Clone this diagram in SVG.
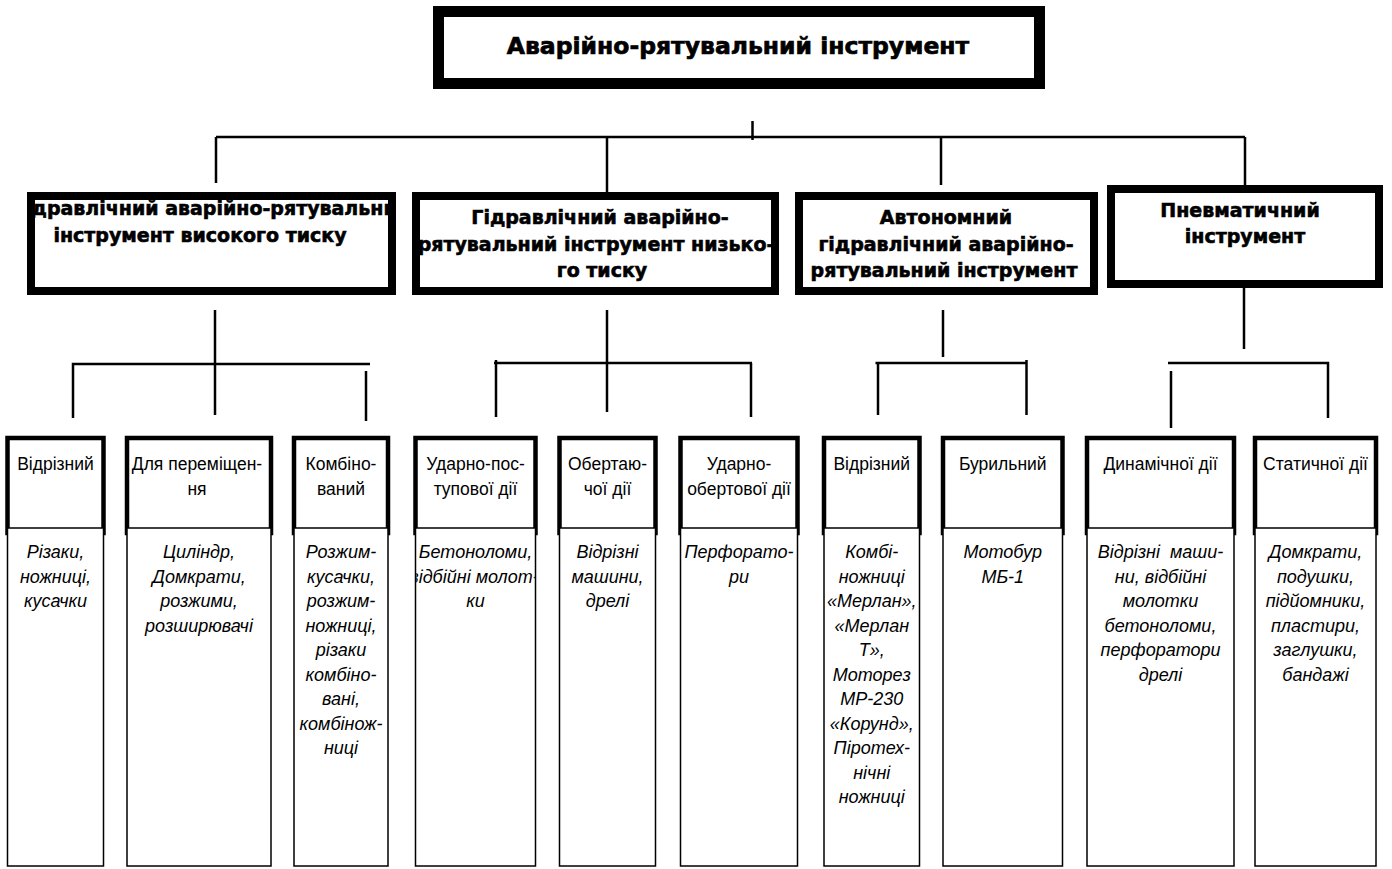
<svg xmlns="http://www.w3.org/2000/svg" width="1392" height="869" viewBox="0 0 1392 869">
  <defs>
    <style>
      .conn { stroke: #000; stroke-width: 2.5; fill: none; }
      .box-title { fill: #fff; stroke: #000; stroke-width: 11; }
      .box-cat { fill: #fff; stroke: #000; stroke-width: 8; }
      .box-head { fill: #fff; stroke: #000; stroke-width: 4.5; }
      .box-body { fill: #fff; stroke: #000; stroke-width: 1.5; }
      .t-title { font-family: "DejaVu Sans", "Liberation Sans", sans-serif; font-weight: bold; font-size: 23.5px; text-anchor: middle; fill: #000; stroke: #000; stroke-width: 0.7; }
      .t-cat { font-family: "DejaVu Sans", "Liberation Sans", sans-serif; font-weight: bold; font-size: 19px; text-anchor: middle; fill: #000; stroke: #000; stroke-width: 0.6; }
      .t-head { font-family: "Liberation Sans", Arial, sans-serif; font-size: 17.5px; text-anchor: middle; fill: #000; }
      .t-body { font-family: "Liberation Sans", Arial, sans-serif; font-size: 18px; font-style: italic; text-anchor: middle; fill: #000; white-space: pre; }
    </style>
    <clipPath id="clip-cat-a"><rect x="35" y="200" width="353" height="87"/></clipPath>
    <clipPath id="clip-cat-b"><rect x="420" y="200" width="351" height="87"/></clipPath>
    <clipPath id="clip-cat-c"><rect x="803" y="200" width="287" height="87"/></clipPath>
    <clipPath id="clip-cat-d"><rect x="1115" y="193" width="260" height="87"/></clipPath>
    <clipPath id="clip-leaf-4"><rect x="416.25" y="528" width="118.5" height="338"/></clipPath>
  </defs>

  <!-- connectors -->
  <g id="connectors">
    <line class="conn" x1="752.5" y1="121" x2="752.5" y2="140"/>
    <line class="conn" x1="216" y1="137" x2="1245" y2="137"/>
    <line class="conn" x1="216" y1="137" x2="216" y2="183"/>
    <line class="conn" x1="607" y1="137" x2="607" y2="192"/>
    <line class="conn" x1="941" y1="137" x2="941" y2="185"/>
    <line class="conn" x1="1245" y1="137" x2="1245" y2="185"/>

    <!-- high-pressure branch -->
    <line class="conn" x1="215" y1="310" x2="215" y2="415"/>
    <polyline class="conn" points="73,418 73,364 370,364"/>
    <line class="conn" x1="366" y1="371" x2="366" y2="421"/>

    <!-- low-pressure branch -->
    <line class="conn" x1="607" y1="310" x2="607" y2="412"/>
    <line class="conn" x1="494" y1="363" x2="752" y2="363"/>
    <line class="conn" x1="496" y1="360" x2="496" y2="417"/>
    <line class="conn" x1="751" y1="363" x2="751" y2="417"/>

    <!-- autonomous branch -->
    <line class="conn" x1="943" y1="310" x2="943" y2="357"/>
    <line class="conn" x1="875.5" y1="363" x2="1027" y2="363"/>
    <line class="conn" x1="878" y1="363" x2="878" y2="415"/>
    <line class="conn" x1="1026.5" y1="360" x2="1026.5" y2="415"/>

    <!-- pneumatic branch -->
    <line class="conn" x1="1244" y1="288" x2="1244" y2="349"/>
    <polyline class="conn" points="1168,363 1328,363 1328,418"/>
    <line class="conn" x1="1171" y1="371" x2="1171" y2="428"/>
  </g>

  <!-- root -->
  <g id="root">
    <rect class="box-title" x="438.5" y="11.5" width="601" height="72"/>
    <text class="t-title" x="738" y="54">Аварійно-рятувальний інструмент</text>
  </g>

  <!-- categories -->
  <g id="cat-high-pressure">
    <rect class="box-cat" x="31" y="196" width="361" height="95"/>
    <g clip-path="url(#clip-cat-a)">
      <text class="t-cat" x="211.5" y="215">Гідравлічний аварійно-рятувальний</text>
      <text class="t-cat" x="200" y="242">інструмент високого тиску</text>
    </g>
  </g>
  <g id="cat-low-pressure">
    <rect class="box-cat" x="416" y="196" width="359" height="95"/>
    <g clip-path="url(#clip-cat-b)">
      <text class="t-cat" x="600" y="224">Гідравлічний аварійно-</text>
      <text class="t-cat" x="596" y="251">рятувальний інструмент низько-</text>
      <text class="t-cat" x="602" y="277">го тиску</text>
    </g>
  </g>
  <g id="cat-autonomous">
    <rect class="box-cat" x="799" y="196" width="295" height="95"/>
    <g clip-path="url(#clip-cat-c)">
      <text class="t-cat" x="946" y="224">Автономний</text>
      <text class="t-cat" x="946" y="251">гідравлічний аварійно-</text>
      <text class="t-cat" x="944" y="277">рятувальний інструмент</text>
    </g>
  </g>
  <g id="cat-pneumatic">
    <rect class="box-cat" x="1111" y="189" width="268" height="95"/>
    <g clip-path="url(#clip-cat-d)">
      <text class="t-cat" x="1240" y="217">Пневматичний</text>
      <text class="t-cat" x="1245" y="243">інструмент</text>
    </g>
  </g>

  <!-- leaf columns: header + list -->
  <g id="leaf-1">
    <rect class="box-head" x="7.5" y="438" width="96" height="95"/>
    <rect class="box-body" x="7.5" y="528" width="96" height="338"/>
    <text class="t-head" x="55.5" y="470">Відрізний</text>
    <text class="t-body" x="55.5" y="558">Різаки,</text>
    <text class="t-body" x="55.5" y="582.5">ножниці,</text>
    <text class="t-body" x="55.5" y="607">кусачки</text>
  </g>
  <g id="leaf-2">
    <rect class="box-head" x="127" y="438" width="144" height="95"/>
    <rect class="box-body" x="127" y="528" width="144" height="338"/>
    <text class="t-head" x="197" y="470">Для переміщен-</text>
    <text class="t-head" x="197" y="495">ня</text>
    <text class="t-body" x="199" y="558">Циліндр,</text>
    <text class="t-body" x="199" y="582.5">Домкрати,</text>
    <text class="t-body" x="199" y="607">розжими,</text>
    <text class="t-body" x="199" y="631.5">розширювачі</text>
  </g>
  <g id="leaf-3">
    <rect class="box-head" x="294" y="438" width="94" height="95"/>
    <rect class="box-body" x="294" y="528" width="94" height="338"/>
    <text class="t-head" x="341" y="470">Комбіно-</text>
    <text class="t-head" x="341" y="495">ваний</text>
    <text class="t-body" x="341" y="558">Розжим-</text>
    <text class="t-body" x="341" y="582.5">кусачки,</text>
    <text class="t-body" x="341" y="607">розжим-</text>
    <text class="t-body" x="341" y="631.5">ножниці,</text>
    <text class="t-body" x="341" y="656">різаки</text>
    <text class="t-body" x="341" y="680.5">комбіно-</text>
    <text class="t-body" x="341" y="705">вані,</text>
    <text class="t-body" x="341" y="729.5">комбінож-</text>
    <text class="t-body" x="341" y="754">ниці</text>
  </g>
  <g id="leaf-4">
    <rect class="box-head" x="415.5" y="438" width="120" height="95"/>
    <rect class="box-body" x="415.5" y="528" width="120" height="338"/>
    <text class="t-head" x="475.5" y="470">Ударно-пос-</text>
    <text class="t-head" x="475.5" y="495">тупової дії</text>
    <g clip-path="url(#clip-leaf-4)">
      <text class="t-body" x="475.5" y="558">Бетоноломи,</text>
      <text class="t-body" x="474" y="582.5">відбійні молот-</text>
      <text class="t-body" x="475.5" y="607">ки</text>
    </g>
  </g>
  <g id="leaf-5">
    <rect class="box-head" x="559.5" y="438" width="96" height="95"/>
    <rect class="box-body" x="559.5" y="528" width="96" height="338"/>
    <text class="t-head" x="607.5" y="470">Обертаю-</text>
    <text class="t-head" x="607.5" y="495">чої дії</text>
    <text class="t-body" x="607.5" y="558">Відрізні</text>
    <text class="t-body" x="607.5" y="582.5">машини,</text>
    <text class="t-body" x="607.5" y="607">дрелі</text>
  </g>
  <g id="leaf-6">
    <rect class="box-head" x="680.5" y="438" width="117" height="95"/>
    <rect class="box-body" x="680.5" y="528" width="117" height="338"/>
    <text class="t-head" x="739" y="470">Ударно-</text>
    <text class="t-head" x="739" y="495">обертової дії</text>
    <text class="t-body" x="739" y="558">Перфорато-</text>
    <text class="t-body" x="739" y="582.5">ри</text>
  </g>
  <g id="leaf-7">
    <rect class="box-head" x="824" y="438" width="95.5" height="95"/>
    <rect class="box-body" x="824" y="528" width="95.5" height="338"/>
    <text class="t-head" x="871.75" y="470">Відрізний</text>
    <text class="t-body" x="871.75" y="558">Комбі-</text>
    <text class="t-body" x="871.75" y="582.5">ножниці</text>
    <text class="t-body" x="871.75" y="607">«Мерлан»,</text>
    <text class="t-body" x="871.75" y="631.5">«Мерлан</text>
    <text class="t-body" x="871.75" y="656">Т»,</text>
    <text class="t-body" x="871.75" y="680.5">Моторез</text>
    <text class="t-body" x="871.75" y="705">МР-230</text>
    <text class="t-body" x="871.75" y="729.5">«Корунд»,</text>
    <text class="t-body" x="871.75" y="754">Піротех-</text>
    <text class="t-body" x="871.75" y="778.5">нічні</text>
    <text class="t-body" x="871.75" y="803">ножниці</text>
  </g>
  <g id="leaf-8">
    <rect class="box-head" x="943" y="438" width="119.5" height="95"/>
    <rect class="box-body" x="943" y="528" width="119.5" height="338"/>
    <text class="t-head" x="1002.75" y="470">Бурильний</text>
    <text class="t-body" x="1002.75" y="558">Мотобур</text>
    <text class="t-body" x="1002.75" y="582.5">МБ-1</text>
  </g>
  <g id="leaf-9">
    <rect class="box-head" x="1087" y="438" width="147" height="95"/>
    <rect class="box-body" x="1087" y="528" width="147" height="338"/>
    <text class="t-head" x="1160.5" y="470">Динамічної дії</text>
    <text class="t-body" x="1160.5" y="558">Відрізні  маши-</text>
    <text class="t-body" x="1160.5" y="582.5">ни, відбійні</text>
    <text class="t-body" x="1160.5" y="607">молотки</text>
    <text class="t-body" x="1160.5" y="631.5">бетоноломи,</text>
    <text class="t-body" x="1160.5" y="656">перфоратори</text>
    <text class="t-body" x="1160.5" y="680.5">дрелі</text>
  </g>
  <g id="leaf-10">
    <rect class="box-head" x="1255" y="438" width="121" height="95"/>
    <rect class="box-body" x="1255" y="528" width="121" height="338"/>
    <text class="t-head" x="1315.5" y="470">Статичної дії</text>
    <text class="t-body" x="1315.5" y="558">Домкрати,</text>
    <text class="t-body" x="1315.5" y="582.5">подушки,</text>
    <text class="t-body" x="1315.5" y="607">підйомники,</text>
    <text class="t-body" x="1315.5" y="631.5">пластири,</text>
    <text class="t-body" x="1315.5" y="656">заглушки,</text>
    <text class="t-body" x="1315.5" y="680.5">бандажі</text>
  </g>
</svg>
